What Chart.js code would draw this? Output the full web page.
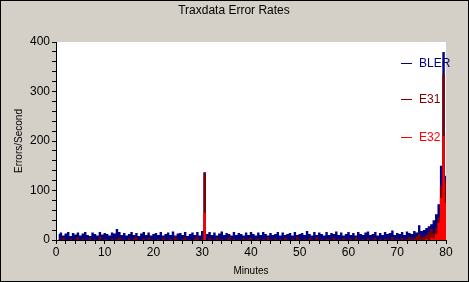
<!DOCTYPE html>
<html>
<head>
<meta charset="utf-8">
<script src="https://cdn.jsdelivr.net/npm/chart.js@4/dist/chart.umd.min.js"></script>
<style>
    body { margin: 0; background: #d4d0c8; }
    canvas { display: block; }
</style>
</head>
<body>
<canvas id="myChart" width="469" height="282"></canvas>
<script>
// one sample every half minute, first sample at 0.5 min
let sampleStep = 0.5;

let seriesNames = ['BLER', 'E31', 'E32'];
let seriesColors = ['#000080', '#800000', '#ff0000'];

let bler = [
    12, 15, 9, 13, 16, 8, 14, 11, 15, 9, 13, 16, 10, 8, 15, 12, 9, 16, 11, 14,
    12, 9, 15, 13, 22, 16, 10, 14, 9, 12, 16, 10, 14, 8, 13, 16, 10, 15, 9, 12,
    14, 10, 16, 9, 12, 15, 10, 17, 9, 13, 14, 10, 16, 8, 12, 15, 10, 16, 9, 18,
    137, 12, 16, 10, 15, 9, 13, 17, 10, 14, 12, 9, 16, 10, 14, 12, 9, 15, 10, 16,
    12, 9, 15, 10, 16, 12, 9, 14, 10, 12, 16, 9, 15, 10, 12, 14, 9, 16, 10, 12,
    14, 10, 18, 12, 9, 16, 10, 15, 12, 9, 16, 10, 14, 12, 17, 10, 15, 9, 12, 16,
    10, 14, 9, 16, 12, 10, 15, 17, 10, 12, 16, 9, 14, 10, 16, 12, 14, 19, 10, 14,
    12, 16, 10, 17, 14, 12, 18, 15, 30, 18, 20, 24, 28, 32, 40, 52, 72, 150, 380, 130
];

let e31 = [
    2, 0, 5, 1, 0, 3, 0, 1, 6, 0, 2, 1, 0, 4, 0, 1, 0, 7, 0, 2,
    1, 0, 3, 0, 2, 5, 0, 1, 0, 4, 0, 2, 6, 0, 1, 3, 0, 5, 0, 1,
    0, 2, 0, 4, 1, 0, 3, 0, 7, 1, 0, 2, 5, 0, 1, 0, 3, 6, 0, 2,
    136, 0, 4, 1, 0, 5, 0, 2, 0, 1, 6, 0, 3, 0, 1, 0, 4, 0, 2, 5,
    0, 1, 3, 0, 2, 0, 6, 1, 0, 3, 0, 2, 0, 5, 1, 0, 3, 0, 7, 1,
    0, 2, 0, 4, 1, 0, 6, 0, 2, 0, 3, 1, 0, 5, 0, 2, 0, 4, 1, 0,
    3, 0, 6, 1, 0, 2, 0, 4, 0, 1, 5, 0, 2, 0, 3, 1, 0, 6, 0, 2,
    1, 4, 0, 2, 6, 1, 3, 8, 12, 5, 7, 10, 16, 22, 14, 25, 45, 110, 335, 120
];

let e32 = [
    0, 0, 0, 0, 0, 0, 0, 0, 0, 0, 0, 0, 0, 0, 0, 0, 0, 0, 0, 0,
    0, 0, 0, 0, 0, 0, 0, 0, 0, 0, 0, 0, 0, 0, 0, 0, 0, 0, 0, 0,
    0, 0, 0, 0, 0, 0, 0, 0, 0, 0, 0, 0, 0, 0, 0, 0, 0, 0, 0, 0,
    55, 0, 0, 0, 0, 0, 0, 0, 0, 0, 0, 0, 0, 0, 0, 0, 0, 0, 0, 0,
    0, 0, 0, 0, 0, 0, 0, 0, 0, 0, 0, 0, 0, 0, 0, 0, 0, 0, 0, 0,
    0, 0, 0, 0, 0, 0, 0, 0, 0, 0, 0, 0, 0, 0, 0, 0, 0, 0, 0, 0,
    0, 0, 0, 0, 0, 0, 0, 0, 0, 0, 0, 0, 0, 0, 0, 0, 0, 0, 0, 0,
    0, 0, 0, 0, 0, 0, 0, 0, 0, 0, 0, 2, 0, 4, 3, 12, 35, 85, 210, 75
];

let labels = bler.map((v, i) => (i + 1) * sampleStep);

Chart.defaults.font.family = "'Liberation Sans', Arial, sans-serif";
Chart.defaults.color = '#000';

function makeSet(name, values, color, order) {
    return {
        label: name,
        data: values.map((v, i) => ({ x: labels[i], y: v })),
        borderColor: color,
        backgroundColor: color,
        borderWidth: 0,
        pointRadius: 0,
        stepped: 'middle',
        fill: 'origin',
        order: order,
    };
}

let frame = {
    id: 'frame',
    beforeDraw(chart) {
        let ctx = chart.ctx;
        let a = chart.chartArea;
        ctx.save();
        ctx.fillStyle = '#d4d0c8';
        ctx.fillRect(0, 0, chart.width, chart.height);
        ctx.strokeStyle = '#000';
        ctx.lineWidth = 1;
        ctx.strokeRect(0.5, 0.5, chart.width - 1, chart.height - 1);
        ctx.fillStyle = '#fff';
        ctx.fillRect(a.left, a.top, a.right - a.left, a.bottom - a.top);
        ctx.restore();
    },
    afterDraw(chart) {
        let ctx = chart.ctx;
        ctx.save();
        ctx.fillStyle = '#000';
        ctx.textAlign = 'center';
        ctx.textBaseline = 'middle';
        ctx.font = "12px 'Liberation Sans', Arial, sans-serif";
        ctx.fillText('Traxdata Error Rates', 234, 11);
        ctx.font = "10px 'Liberation Sans', Arial, sans-serif";
        ctx.fillText('Minutes', 251, 271);
        ctx.translate(19, 141);
        ctx.rotate(-Math.PI / 2);
        ctx.fillText('Errors/Second', 0, 0);
        ctx.restore();

        // legend sits inside the plot, top right
        ctx.save();
        ctx.font = "12px 'Liberation Sans', Arial, sans-serif";
        ctx.textAlign = 'left';
        ctx.textBaseline = 'middle';
        let rows = [63, 99, 137];
        seriesNames.forEach((name, i) => {
            ctx.fillStyle = seriesColors[i];
            ctx.fillRect(401, rows[i], 11, 1);
            ctx.fillText(name, 419, rows[i] + 1);
        });
        ctx.restore();
    }
};

let config = {
    type: 'line',
    data: {
        datasets: [
            makeSet(seriesNames[0], bler, seriesColors[0], 3),
            makeSet(seriesNames[1], e31, seriesColors[1], 2),
            makeSet(seriesNames[2], e32, seriesColors[2], 1),
        ]
    },
    options: {
        responsive: false,
        animation: false,
        layout: {
            padding: { left: 0, top: 42, right: 23, bottom: 0 }
        },
        plugins: {
            legend: { display: false },
            tooltip: { enabled: false },
            title: { display: false }
        },
        scales: {
            x: {
                type: 'linear',
                min: 0,
                max: 80,
                z: 1,
                afterFit: (scale) => { scale.height = 42; },
                grid: { drawOnChartArea: false, tickLength: 4, tickColor: '#000' },
                border: { color: '#000' },
                ticks: {
                    stepSize: 2,
                    autoSkip: false,
                    maxRotation: 0,
                    padding: 1,
                    font: { size: 12 },
                    callback: (v) => v % 10 === 0 ? v : ''
                }
            },
            y: {
                min: 0,
                max: 400,
                z: 1,
                afterFit: (scale) => { scale.width = 56; },
                grid: { drawOnChartArea: false, tickLength: 4, tickColor: '#000' },
                border: { color: '#000' },
                ticks: {
                    stepSize: 20,
                    autoSkip: false,
                    padding: 2,
                    font: { size: 12 },
                    callback: (v) => v % 100 === 0 ? v : ''
                }
            }
        }
    },
    plugins: [frame]
};

let myChart = new Chart(
    document.getElementById('myChart'),
    config
);
</script>
</body>
</html>
